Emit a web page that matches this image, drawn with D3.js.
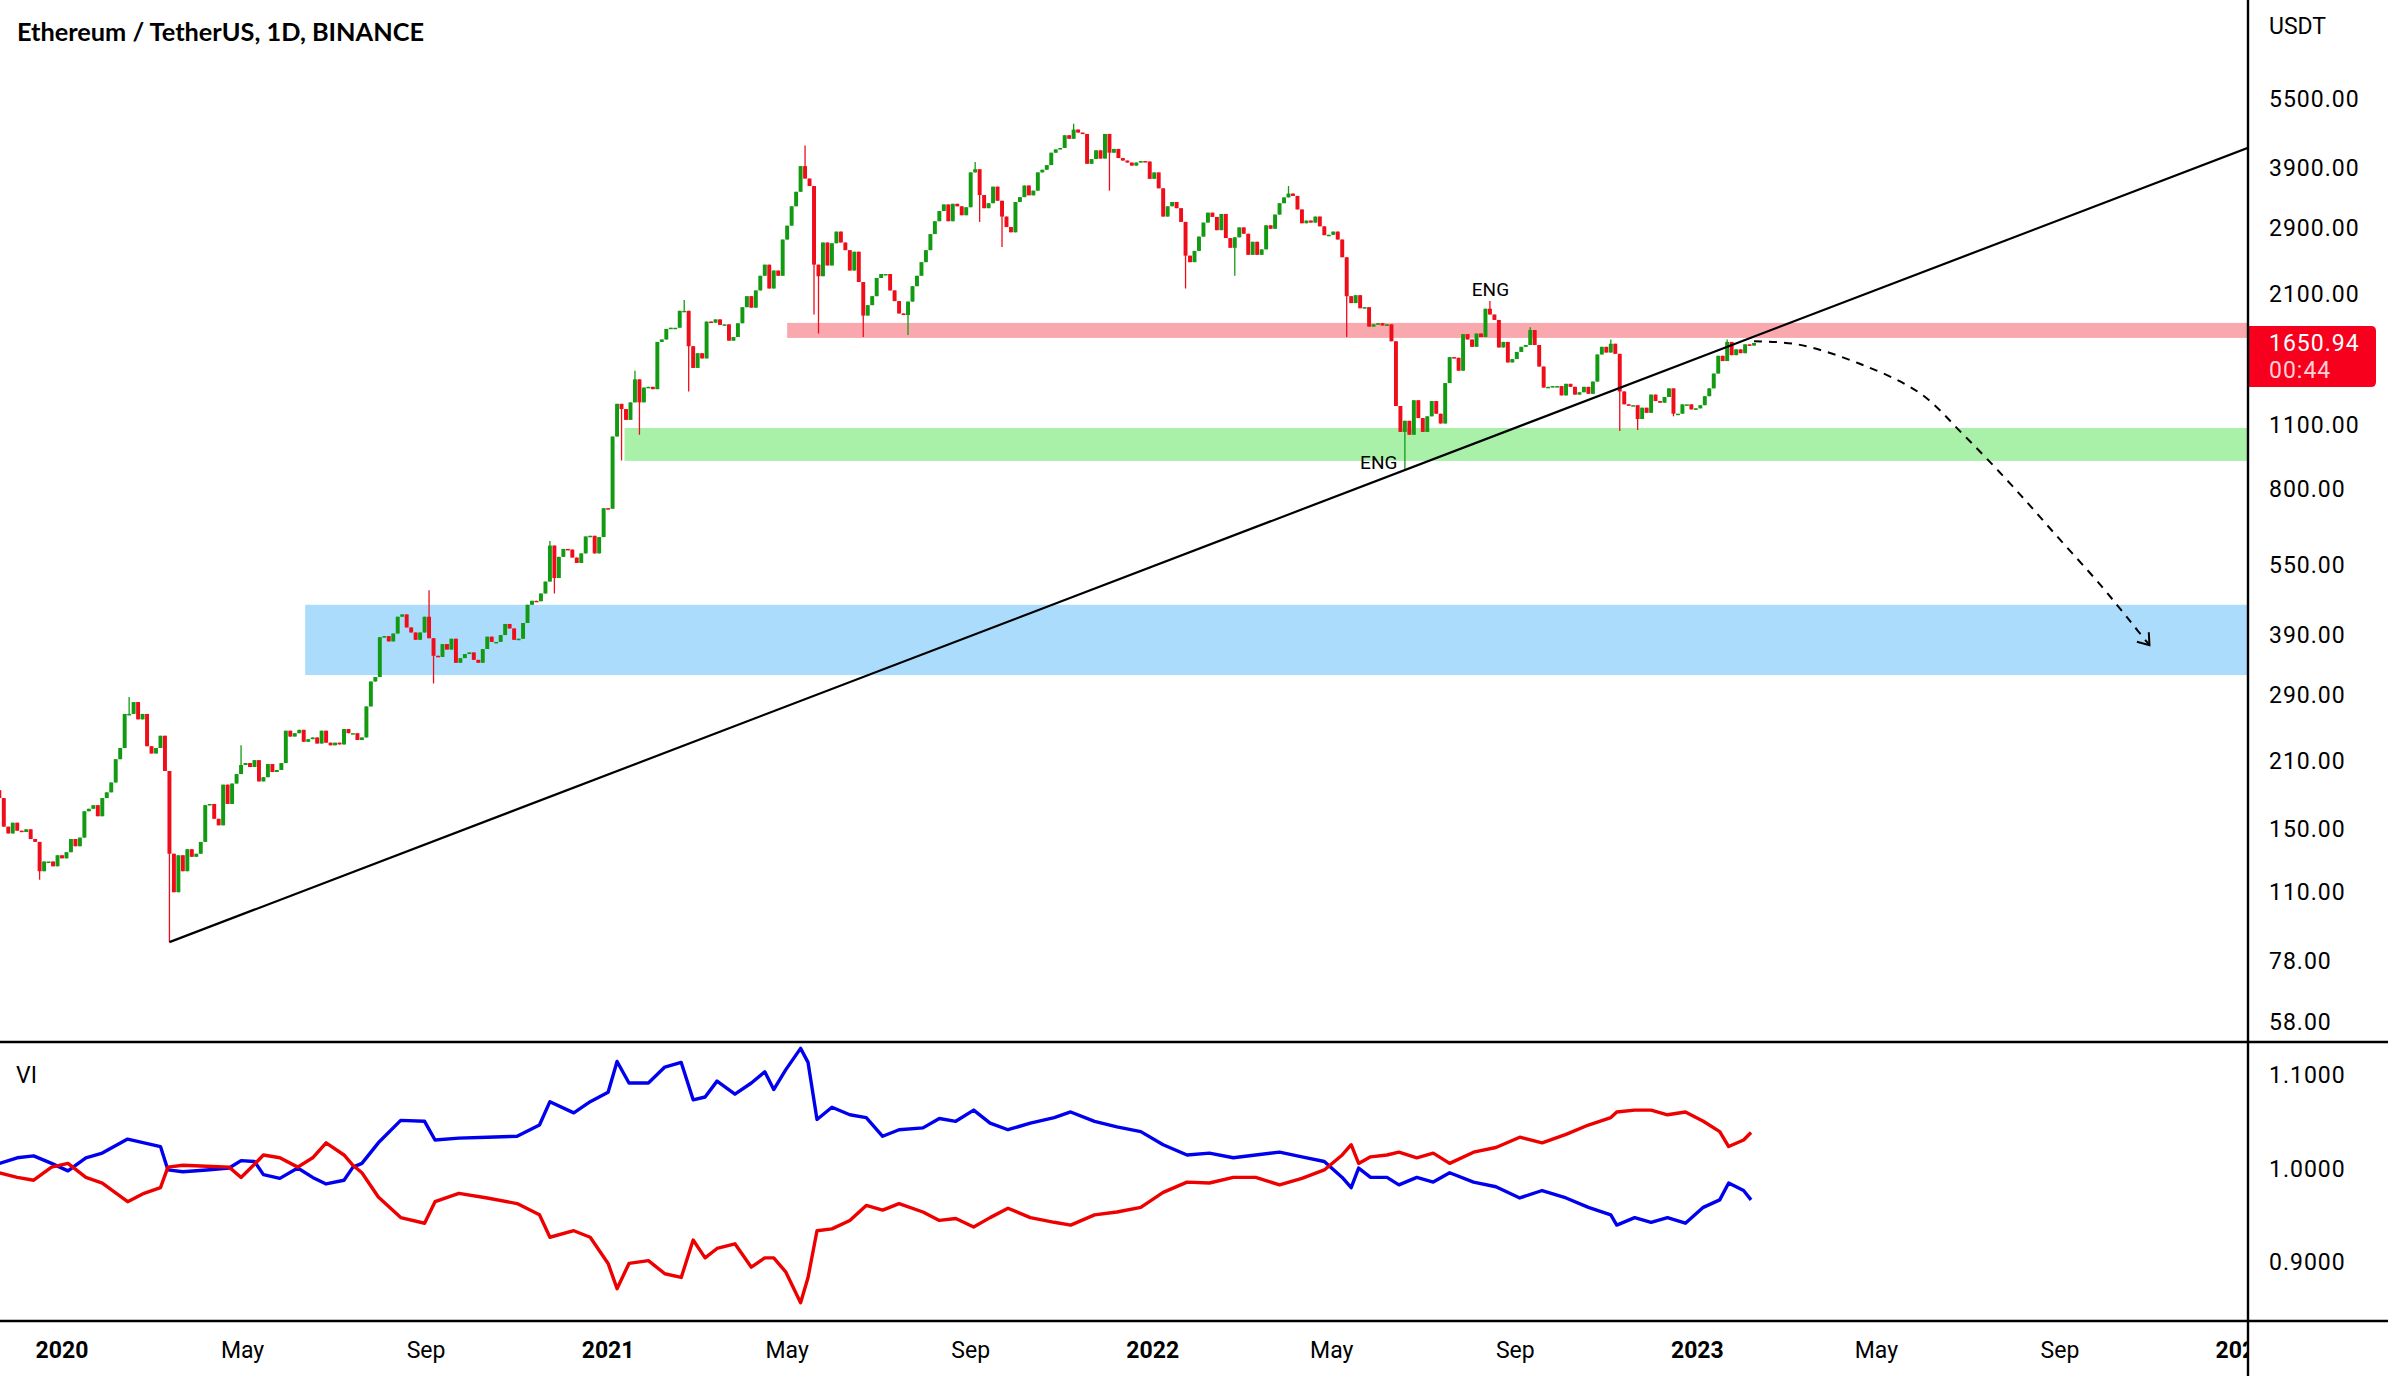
<!DOCTYPE html>
<html><head><meta charset="utf-8">
<script src="https://cdn.jsdelivr.net/npm/d3@7"></script>
<style>html,body{margin:0;padding:0;background:#fff;} svg{display:block}</style>
</head><body><svg id="c" width="2388" height="1376"></svg>
<script>
// ---------------- DATA ----------------
const title = "Ethereum / TetherUS, 1D, BINANCE";
const startDate = "2019-11-20";
const stepDays = 3;
const firstOpen = 182;
const closes = [
 175,152,147,155,
 149,148,150,143,141,122,128,128,125,132,
 130,134,143,138,144,164,166,169,160,175,180,
 189,212,224,265,265,281,258,265,226,
 218,224,238,200,133,110,132,122,136,131,133,
 141,169,170,158,153,187,170,188,197,206,
 208,204,211,190,194,207,199,201,208,244,
 237,241,245,231,234,236,229,244,230,227,
 230,228,246,241,241,233,236,275,311,318,
 387,389,379,394,428,433,406,396,382,396,428,
 385,353,351,374,364,384,341,349,356,359,
 346,341,365,388,378,378,391,413,404,382,
 384,415,454,463,462,480,509,608,518,575,
 598,596,573,558,585,636,638,585,634,731,
 729,1041,1223,1192,1130,1232,1380,1232,1325,1330,1315,
 1660,1680,1770,1780,1780,1935,1935,1625,1460,
 1570,1530,1835,1825,1855,1805,1810,1670,1700,1820,
 1970,2080,1965,2140,2300,2430,2160,2360,2300,2750,
 2945,3240,3480,3950,3715,3580,2430,2295,2710,2420,2700,
 2860,2710,2610,2360,2590,2230,1890,1990,2080,2275,
 2320,2320,2140,2030,1910,1895,2025,2185,2300,2460,
 2610,2825,3010,3165,3270,3010,3280,3240,3100,3225,
 3830,3890,3425,3210,3290,3570,3330,3080,2925,2850,
 3310,3390,3590,3420,3500,3830,3880,3970,4220,4290,4320,
 4600,4520,4730,4660,4630,3995,4090,4270,4100,4630,
 4220,4300,4110,4060,4020,3960,4020,4050,4040,3710,
 3830,3540,3080,3240,3310,3210,3000,2540,2460,2600,
 2790,2990,3140,3075,2880,3120,2770,2640,2780,2920,
 2830,2550,2720,2550,2620,2950,2900,3110,3290,3385,
 3450,3410,3190,2980,3020,2990,3080,2935,2810,2815,
 2860,2750,2520,2080,2010,2090,1960,1970,1790,1810,
 1820,1800,1810,1665,1210,1065,1125,1050,1245,1140,
 1065,1150,1240,1165,1110,1355,1540,1535,1440,1725,1680,
 1620,1730,1700,1955,1900,1850,1615,1660,1500,1525,
 1580,1620,1635,1760,1635,1470,1325,1330,1335,1335,
 1275,1350,1330,1280,1295,1330,1285,1365,1560,1620,
 1575,1645,1565,1300,1220,1215,1215,1135,1200,1170,
 1280,1240,1230,1265,1320,1165,1165,1220,1220,1190,1196,
 1215,1270,1320,1420,1550,1510,1660,1555,1600,1570,
 1640,1630,1650.94
];
const wickDates = ["2019-11-21","2019-12-18","2020-02-15","2020-03-13","2020-04-30","2020-08-02","2020-09-02","2020-09-05","2020-11-24","2020-11-26","2021-01-11","2021-01-19","2021-01-22","2021-02-20","2021-02-23","2021-05-12","2021-05-19","2021-05-23","2021-06-22","2021-07-20","2021-09-03","2021-09-07","2021-09-21","2021-11-10","2021-12-04","2022-01-24","2022-02-24","2022-04-03","2022-05-12","2022-06-18","2022-08-14","2022-09-10","2022-11-05","2022-11-09","2022-11-21","2022-12-16","2023-01-21"];
const wickPrices = [178,117,288,86,227,335,488,308,622,480,925,1440,1050,2040,1300,4372,1900,1730,1700,1718,4030,3000,2650,4868,3500,2160,2300,3580,1700,880,2030,1785,1680,1070,1075,1150,1680];

const zoneStart = ["2021-05-01","2021-01-12","2020-06-12"];
const zoneLow   = [1693, 923, 321];
const zoneHigh  = [1823, 1086, 454];

const trendDates  = ["2020-03-13","2022-06-18"];
const trendPrices = [86, 880];

const projDates  = ["2023-02-08","2023-03-09","2023-04-19","2023-05-30","2023-06-29","2023-07-30","2023-08-29","2023-09-29","2023-10-19","2023-10-31"];
const projPrices = [1665,1640,1494,1290,1045,823,642,497,415,372];

const engDates  = ["2022-08-14","2022-06-18"];
const engPrices = [2030, 880];
const engText   = "ENG";

const priceTicks = [5500,3900,2900,2100,1100,800,550,390,290,210,150,110,78,58];
const currency = "USDT";
const lastPrice = 1650.94;
const countdown = "00:44";

const viTicks = [1.1, 1.0, 0.9];
const viLabel = "VI";
const viDates = ["2019-11-20","2019-12-02","2019-12-13","2019-12-25","2020-01-05","2020-01-17","2020-01-28","2020-02-14","2020-02-25","2020-03-07","2020-03-12","2020-03-22","2020-04-07","2020-04-22","2020-04-30","2020-05-09","2020-05-15","2020-05-26","2020-06-07","2020-06-17","2020-06-26","2020-07-08","2020-07-14","2020-07-20","2020-07-31","2020-08-15","2020-08-31","2020-09-07","2020-09-23","2020-10-12","2020-11-01","2020-11-16","2020-11-23","2020-12-09","2020-12-20","2021-01-01","2021-01-07","2021-01-15","2021-01-28","2021-02-08","2021-02-19","2021-02-27","2021-03-07","2021-03-15","2021-03-27","2021-04-07","2021-04-16","2021-04-22","2021-04-30","2021-05-10","2021-05-15","2021-05-21","2021-05-31","2021-06-12","2021-06-23","2021-07-04","2021-07-15","2021-07-31","2021-08-11","2021-08-22","2021-09-03","2021-09-14","2021-09-26","2021-10-11","2021-10-27","2021-11-07","2021-11-23","2021-12-08","2021-12-24","2022-01-08","2022-01-24","2022-02-08","2022-02-24","2022-03-11","2022-03-27","2022-04-11","2022-04-26","2022-05-08","2022-05-14","2022-05-19","2022-05-27","2022-06-07","2022-06-15","2022-06-27","2022-07-08","2022-07-19","2022-08-04","2022-08-19","2022-09-04","2022-09-19","2022-10-05","2022-10-20","2022-11-04","2022-11-08","2022-11-20","2022-12-01","2022-12-12","2022-12-24","2023-01-05","2023-01-16","2023-01-22","2023-02-01","2023-02-06"];
const viPlus = [1.006,1.012,1.014,1.006,0.998,1.012,1.017,1.032,1.028,1.024,0.999,0.997,0.999,1.001,1.009,1.008,0.994,0.990,1.001,0.991,0.984,0.988,1.002,1.006,1.028,1.052,1.051,1.031,1.033,1.034,1.035,1.047,1.072,1.060,1.072,1.082,1.115,1.092,1.092,1.109,1.114,1.074,1.077,1.094,1.080,1.092,1.104,1.085,1.106,1.129,1.114,1.053,1.066,1.058,1.055,1.035,1.042,1.044,1.054,1.051,1.063,1.049,1.042,1.049,1.055,1.061,1.051,1.045,1.040,1.026,1.015,1.017,1.012,1.015,1.018,1.013,1.008,0.991,0.980,1.001,0.991,0.991,0.983,0.991,0.986,0.996,0.986,0.981,0.969,0.977,0.969,0.959,0.951,0.940,0.948,0.943,0.948,0.942,0.959,0.967,0.985,0.977,0.967];
const viMinus = [0.996,0.991,0.988,1.002,1.006,0.991,0.985,0.965,0.974,0.980,1.002,1.004,1.003,1.002,0.991,1.005,1.015,1.012,1.002,1.012,1.028,1.015,1.004,0.996,0.970,0.948,0.942,0.965,0.974,0.969,0.963,0.951,0.927,0.934,0.927,0.899,0.872,0.899,0.902,0.888,0.884,0.924,0.905,0.915,0.920,0.895,0.905,0.905,0.890,0.857,0.884,0.934,0.936,0.945,0.961,0.956,0.963,0.954,0.945,0.947,0.938,0.948,0.958,0.948,0.943,0.940,0.951,0.954,0.959,0.975,0.986,0.985,0.991,0.991,0.983,0.990,0.999,1.015,1.026,1.006,1.013,1.015,1.018,1.012,1.017,1.006,1.018,1.023,1.034,1.028,1.037,1.047,1.055,1.061,1.063,1.063,1.058,1.061,1.051,1.040,1.024,1.031,1.039];

const timeTickDates  = ["2020-01-01","2020-05-01","2020-09-01","2021-01-01","2021-05-01","2021-09-01","2022-01-01","2022-05-01","2022-09-01","2023-01-01","2023-05-01","2023-09-01","2024-01-01"];
const timeTickLabels = ["2020","May","Sep","2021","May","Sep","2022","May","Sep","2023","May","Sep","2024"];

// ---------------- LAYOUT ----------------
const W = 2388, H = 1376;
const axisX = 2248;
const priceTop = 0, priceBottom = 1042;
const viTop = 1042, viBottom = 1321;
const FONT = "Roboto, 'Liberation Sans', Arial, sans-serif";
const UP = "#139a13", DOWN = "#f00d1a";

const svg = d3.select("#c");
const parse = d3.utcParse("%Y-%m-%d");
const DAY = 86400000;

const x = d3.scaleUtc()
  .domain([parse("2020-01-01"), parse("2023-01-01")])
  .range([62, 62 + 1096 * 1.4921]);
const y = d3.scaleLog().domain([58, 5500]).range([1022, 99]);
const yv = d3.scaleLinear().domain([0.9, 1.1]).range([1262.5, 1075.5]);

const defs = svg.append("defs");
defs.append("clipPath").attr("id","clipPrice").append("rect")
  .attr("x",0).attr("y",priceTop).attr("width",axisX).attr("height",priceBottom-priceTop);
defs.append("clipPath").attr("id","clipVI").append("rect")
  .attr("x",0).attr("y",viTop).attr("width",axisX).attr("height",viBottom-viTop);
defs.append("clipPath").attr("id","clipTime").append("rect")
  .attr("x",0).attr("y",viBottom).attr("width",axisX-1).attr("height",H-viBottom);

svg.append("rect").attr("width",W).attr("height",H).attr("fill","#fff");

// ---------------- PRICE PANEL ----------------
const gp = svg.append("g").attr("clip-path","url(#clipPrice)");

// zones
const zoneColors = ["#f9a8ae", "#a9f0a9", "#abdcfb"];
zoneStart.forEach((d,i) => {
  gp.append("rect")
    .attr("x", x(parse(d)))
    .attr("y", y(zoneHigh[i]))
    .attr("width", axisX - x(parse(d)))
    .attr("height", y(zoneLow[i]) - y(zoneHigh[i]))
    .attr("fill", zoneColors[i]);
});

// candles
const start = parse(startDate);
const candles = closes.map((c,i) => {
  const o = i === 0 ? firstOpen : closes[i-1];
  return {date: new Date(+start + i*stepDays*DAY), open:o, close:c, high:Math.max(o,c), low:Math.min(o,c)};
});
wickDates.forEach((d,k) => {
  const idx = Math.round((parse(d) - start) / (stepDays*DAY));
  if (idx >= 0 && idx < candles.length) {
    const cd = candles[idx], p = wickPrices[k];
    cd.high = Math.max(cd.high, p);
    cd.low = Math.min(cd.low, p);
  }
});
const stepPx = x(new Date(+start + stepDays*DAY)) - x(start);
const bodyW = Math.max(1, stepPx * 0.88);
const cg = gp.append("g");
cg.selectAll("line.w").data(candles).join("line")
  .attr("x1", d => x(d.date)).attr("x2", d => x(d.date))
  .attr("y1", d => y(d.high)).attr("y2", d => y(d.low))
  .attr("stroke", d => d.close >= d.open ? UP : DOWN)
  .attr("stroke-width", 1.3);
cg.selectAll("rect.b").data(candles).join("rect")
  .attr("x", d => x(d.date) - bodyW/2)
  .attr("width", bodyW)
  .attr("y", d => y(Math.max(d.open,d.close)))
  .attr("height", d => Math.max(1.5, Math.abs(y(d.open) - y(d.close))))
  .attr("fill", d => d.close >= d.open ? UP : DOWN);

// trendline (extended to the right edge)
const tx1 = x(parse(trendDates[0])), ty1 = y(trendPrices[0]);
const tx2 = x(parse(trendDates[1])), ty2 = y(trendPrices[1]);
const slope = (ty2 - ty1) / (tx2 - tx1);
gp.append("line")
  .attr("x1", tx1).attr("y1", ty1)
  .attr("x2", axisX).attr("y2", ty1 + slope*(axisX - tx1))
  .attr("stroke","#000").attr("stroke-width",2.2);

// projection dashed curve
const projPts = projDates.map((d,i) => [x(parse(d)), y(projPrices[i])]);
gp.append("path")
  .attr("d", d3.line().curve(d3.curveCatmullRom)(projPts))
  .attr("fill","none").attr("stroke","#000").attr("stroke-width",2)
  .attr("stroke-dasharray","8,7");
{
  const [ex,ey] = projPts[projPts.length-1];
  const [px,py] = projPts[projPts.length-2];
  const ang = Math.atan2(ey-py, ex-px);
  const L = 13, spread = Math.PI/5;
  const a1 = ang + Math.PI - spread, a2 = ang + Math.PI + spread;
  gp.append("path")
    .attr("d", `M${ex+L*Math.cos(a1)},${ey+L*Math.sin(a1)}L${ex},${ey}L${ex+L*Math.cos(a2)},${ey+L*Math.sin(a2)}`)
    .attr("fill","none").attr("stroke","#000").attr("stroke-width",2);
}

// ENG labels
svg.append("text").attr("x", x(parse(engDates[0]))+2).attr("y", y(engPrices[0]) - 5)
  .attr("text-anchor","middle").attr("font-family",FONT).attr("font-size",19).attr("fill","#000").text(engText);
svg.append("text").attr("x", x(parse(engDates[1])) - 6).attr("y", y(engPrices[1]) - 2)
  .attr("text-anchor","end").attr("font-family",FONT).attr("font-size",19).attr("fill","#000").text(engText);

// title
svg.append("text").attr("x",17).attr("y",41)
  .attr("font-family","Lato, 'Open Sans', sans-serif").attr("font-weight",700).attr("font-size",25)
  .attr("textLength",407).attr("lengthAdjust","spacingAndGlyphs").attr("fill","#000").text(title);

// ---------------- VI PANEL ----------------
const gv = svg.append("g").attr("clip-path","url(#clipVI)");
const viLine = arr => d3.line().x((d,i) => x(parse(viDates[i]))).y((d,i) => yv(arr[i]))(arr);
gv.append("path").attr("d", viLine(viPlus)).attr("fill","none").attr("stroke","#0000ee").attr("stroke-width",3.4).attr("stroke-linejoin","round");
gv.append("path").attr("d", viLine(viMinus)).attr("fill","none").attr("stroke","#ee0000").attr("stroke-width",3.4).attr("stroke-linejoin","round");
svg.append("text").attr("x",16).attr("y",1075).attr("dominant-baseline","central")
  .attr("font-family",FONT).attr("font-size",23).attr("fill","#000").text(viLabel);

// ---------------- AXES / FRAME ----------------
const axisG = svg.append("g").attr("font-family",FONT).attr("font-size",23).attr("fill","#000");
axisG.append("text").attr("x",2269).attr("y",26).attr("dominant-baseline","central").text(currency);
priceTicks.forEach(v => {
  axisG.append("text").attr("x",2269).attr("y",y(v)).attr("dominant-baseline","central")
    .attr("letter-spacing",1).text(v.toFixed(2));
});
viTicks.forEach(v => {
  axisG.append("text").attr("x",2269).attr("y",yv(v)).attr("dominant-baseline","central")
    .attr("letter-spacing",1).text(v.toFixed(4));
});

// last price label
const ly = y(lastPrice);
const boxTop = ly - 17, boxH = 61, boxX = axisX + 1, boxW = 127, r = 5;
svg.append("path")
  .attr("d", `M${boxX},${boxTop}H${boxX+boxW-r}Q${boxX+boxW},${boxTop} ${boxX+boxW},${boxTop+r}V${boxTop+boxH-r}Q${boxX+boxW},${boxTop+boxH} ${boxX+boxW-r},${boxTop+boxH}H${boxX}Z`)
  .attr("fill","#f7001e");
svg.append("text").attr("x",2269).attr("y",ly).attr("dominant-baseline","central")
  .attr("font-family",FONT).attr("font-size",23).attr("letter-spacing",1).attr("fill","#fff").text(lastPrice.toFixed(2));
svg.append("text").attr("x",2269).attr("y",ly+27).attr("dominant-baseline","central")
  .attr("font-family",FONT).attr("font-size",23).attr("letter-spacing",1).attr("fill","#ffd0d5").text(countdown);

// time axis
const tg = svg.append("g").attr("clip-path","url(#clipTime)");
timeTickDates.forEach((d,i) => {
  const isYear = /^\d{4}$/.test(timeTickLabels[i]);
  tg.append("text").attr("x", x(parse(d))).attr("y",1350).attr("dominant-baseline","central")
    .attr("text-anchor","middle").attr("font-family",FONT).attr("font-size",23)
    .attr("font-weight", isYear ? 700 : 400).attr("fill","#000").text(timeTickLabels[i]);
});

// frame lines
svg.append("line").attr("x1",axisX).attr("x2",axisX).attr("y1",0).attr("y2",H).attr("stroke","#000").attr("stroke-width",2.4);
svg.append("line").attr("x1",0).attr("x2",W).attr("y1",priceBottom).attr("y2",priceBottom).attr("stroke","#000").attr("stroke-width",2.4);
svg.append("line").attr("x1",0).attr("x2",W).attr("y1",viBottom).attr("y2",viBottom).attr("stroke","#000").attr("stroke-width",2.4);
</script>
</body></html>
